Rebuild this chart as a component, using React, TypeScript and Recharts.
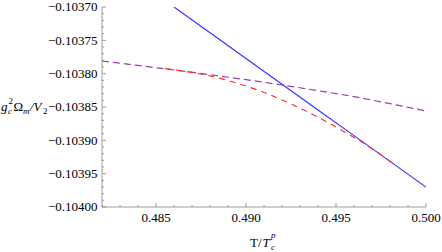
import React from 'react';
import { LineChart, Line, XAxis, YAxis } from 'recharts';

// Blue solid line
const blueT = [0.486, 0.488, 0.49, 0.492, 0.494, 0.496, 0.498, 0.5];
const blueV = [-0.1037, -0.1037386, -0.1037772, -0.1038158, -0.1038544, -0.103893, -0.1039316, -0.1039702];

// Purple dashed curve
const purpleT = [0.482, 0.484, 0.486, 0.488, 0.49, 0.492, 0.494, 0.496, 0.498, 0.5];
const purpleV = [-0.103781, -0.1037877, -0.1037945, -0.1038015, -0.103809, -0.103817, -0.1038255, -0.1038345, -0.103845, -0.103856];

// Red dashed curve
const redT = [0.4855, 0.4865, 0.4875, 0.4885, 0.4895, 0.4905, 0.4915, 0.4925, 0.4935, 0.4945, 0.4955, 0.496, 0.4965, 0.497, 0.4975, 0.4982];
const redV = [-0.1037925, -0.1037961, -0.1038006, -0.1038066, -0.1038142, -0.1038232, -0.1038336, -0.1038454, -0.1038583, -0.1038725, -0.1038878, -0.1038956, -0.1039038, -0.1039125, -0.1039218, -0.1039355];

// Tick positions (major ones are labelled)
const xTicks = [0.482, 0.483, 0.484, 0.485, 0.486, 0.487, 0.488, 0.489, 0.49, 0.491, 0.492, 0.493, 0.494, 0.495, 0.496, 0.497, 0.498, 0.499, 0.5];
const xMajor = [0.485, 0.49, 0.495, 0.5];
const yTicks = [
  -0.1037, -0.10371, -0.10372, -0.10373, -0.10374, -0.10375, -0.10376, -0.10377, -0.10378, -0.10379,
  -0.1038, -0.10381, -0.10382, -0.10383, -0.10384, -0.10385, -0.10386, -0.10387, -0.10388, -0.10389,
  -0.1039, -0.10391, -0.10392, -0.10393, -0.10394, -0.10395, -0.10396, -0.10397, -0.10398, -0.10399, -0.104,
];
const yMajor = [-0.1037, -0.10375, -0.1038, -0.10385, -0.1039, -0.10395, -0.104];

const toRows = (t: number[], v: number[]) => t.map((x, i) => ({ x, y: v[i] }));
const blueData = toRows(blueT, blueV);
const purpleData = toRows(purpleT, purpleV);
const redData = toRows(redT, redV);

const FRAME = '#858585';
const FONT = '"Liberation Serif", "Times New Roman", serif';
const isIn = (arr: number[], v: number) => arr.some((a) => Math.abs(a - v) < 1e-9);

const BottomTick = (props: any) => {
  const { x, y, payload } = props;
  const major = isIn(xMajor, payload.value);
  return (
    <g>
      <line x1={x} y1={y} x2={x} y2={y - (major ? 4 : 2)} stroke={FRAME} strokeWidth={0.8} />
      {major && (
        <text x={x} y={y + 15} textAnchor="middle" style={{ fontFamily: FONT }} fontSize={13} fill="#000">
          {payload.value.toFixed(3)}
        </text>
      )}
    </g>
  );
};

const TopTick = (props: any) => {
  const { x, y, payload } = props;
  const major = isIn(xMajor, payload.value);
  return <line x1={x} y1={y} x2={x} y2={y + (major ? 4 : 2)} stroke={FRAME} strokeWidth={0.8} />;
};

const LeftTick = (props: any) => {
  const { x, y, payload } = props;
  const major = isIn(yMajor, payload.value);
  return (
    <g>
      <line x1={x} y1={y} x2={x + (major ? 4 : 2)} y2={y} stroke={FRAME} strokeWidth={0.8} />
      {major && (
        <text x={x - 4.5} y={y + 4.3} textAnchor="end" style={{ fontFamily: FONT }} fontSize={13} fill="#000">
          {payload.value.toFixed(5).replace('-', '\u2212')}
        </text>
      )}
    </g>
  );
};

const RightTick = (props: any) => {
  const { x, y, payload } = props;
  const major = isIn(yMajor, payload.value);
  return <line x1={x} y1={y} x2={x - (major ? 4 : 2)} y2={y} stroke={FRAME} strokeWidth={0.8} />;
};

const YLabel = () => (
  <g style={{ fontFamily: FONT }} fill="#000">
    <text x={1} y={111} fontSize={13} fontStyle="italic">g</text>
    <text x={8.5} y={104} fontSize={9}>2</text>
    <text x={8} y={114} fontSize={9} fontStyle="italic">c</text>
    <text x={13.5} y={111} fontSize={13}>Ω</text>
    <text x={23} y={114} fontSize={9} fontStyle="italic">m</text>
    <text x={30} y={111} fontSize={13} fontStyle="italic">/V</text>
    <text x={43} y={114} fontSize={9}>2</text>
  </g>
);

const XLabel = () => (
  <g style={{ fontFamily: FONT }} fill="#000">
    <text x={250} y={247} fontSize={13}>T/</text>
    <text x={262.5} y={247} fontSize={13} fontStyle="italic">T</text>
    <text x={271} y={237.5} fontSize={9} fontStyle="italic">p</text>
    <text x={271} y={250} fontSize={9} fontStyle="italic">c</text>
  </g>
);

export default function App() {
  return (
    <div style={{ position: 'absolute', left: 0, top: 0, width: 442, height: 252, background: '#fff' }}>
      <LineChart width={442} height={252} margin={{ top: 7, right: 16, bottom: 0, left: 0 }}>
        <XAxis
          xAxisId={0}
          type="number"
          dataKey="x"
          domain={[0.482, 0.5]}
          allowDataOverflow
          ticks={xTicks}
          interval={0}
          height={45}
          tickSize={0}
          tickMargin={0}
          tickLine={false}
          axisLine={{ stroke: FRAME, strokeWidth: 0.8 }}
          tick={<BottomTick />}
          label={{ content: () => <XLabel /> }}
        />
        <XAxis
          xAxisId="top"
          orientation="top"
          type="number"
          dataKey="x"
          domain={[0.482, 0.5]}
          allowDataOverflow
          ticks={xTicks}
          interval={0}
          height={0}
          tickSize={0}
          tickMargin={0}
          tickLine={false}
          axisLine={{ stroke: FRAME, strokeWidth: 0.8 }}
          tick={<TopTick />}
        />
        <YAxis
          yAxisId={0}
          type="number"
          domain={[-0.104, -0.1037]}
          allowDataOverflow
          ticks={yTicks}
          interval={0}
          width={102}
          tickSize={0}
          tickMargin={0}
          tickLine={false}
          axisLine={{ stroke: FRAME, strokeWidth: 0.8 }}
          tick={<LeftTick />}
          label={{ content: () => <YLabel /> }}
        />
        <YAxis
          yAxisId="right"
          orientation="right"
          type="number"
          domain={[-0.104, -0.1037]}
          allowDataOverflow
          ticks={yTicks}
          interval={0}
          width={0}
          tickSize={0}
          tickMargin={0}
          tickLine={false}
          axisLine={{ stroke: FRAME, strokeWidth: 0.8 }}
          tick={<RightTick />}
        />
        <Line data={purpleData} dataKey="y" type="monotone" stroke="#a03cb0" strokeWidth={1.2} strokeDasharray="7 4" dot={false} isAnimationActive={false} />
        <Line data={blueData} dataKey="y" type="linear" stroke="#2f2fff" strokeWidth={1.1} dot={false} isAnimationActive={false} />
        <Line data={redData} dataKey="y" type="monotone" stroke="#ff2a2a" strokeWidth={1.1} strokeDasharray="6 5" dot={false} isAnimationActive={false} />
      </LineChart>
    </div>
  );
}
